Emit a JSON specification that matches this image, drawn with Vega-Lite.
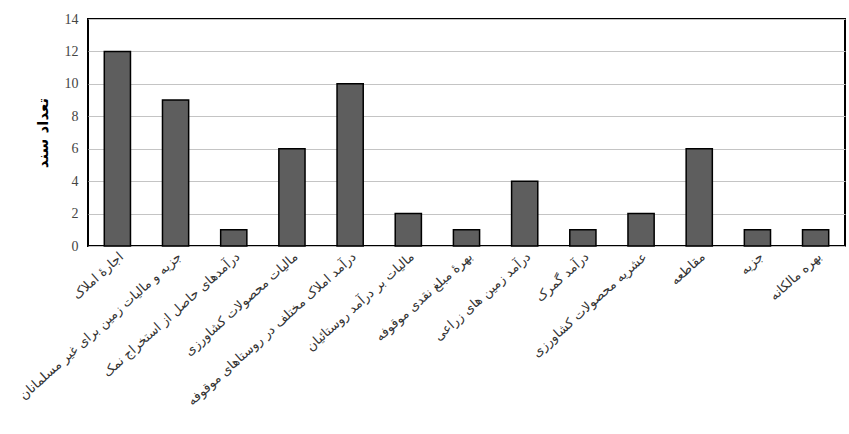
{
  "$schema": "https://vega.github.io/schema/vega-lite/v6.json",
  "autosize": "none",
  "width": 757,
  "height": 227,
  "padding": {"left": 88, "top": 19, "right": 4, "bottom": 188},
  "background": "white",
  "config": {
    "view": {"stroke": "black", "strokeWidth": 2},
    "axis": {"domain": false, "ticks": false}
  },
  "data": {
    "values": [
      {"item": "اجارهٔ املاک", "count": 12},
      {"item": "جزیه و مالیات زمین برای غیر مسلمانان", "count": 9},
      {"item": "درآمدهای حاصل از استخراج نمک", "count": 1},
      {"item": "مالیات محصولات کشاورزی", "count": 6},
      {"item": "درآمد املاک مختلف در روستاهای موقوفه", "count": 10},
      {"item": "مالیات بر درآمد روستائیان", "count": 2},
      {"item": "بهرهٔ مبلغ نقدی موقوفه", "count": 1},
      {"item": "درآمد زمین های زراعی", "count": 4},
      {"item": "درآمد گمرک", "count": 1},
      {"item": "عشریه محصولات کشاورزی", "count": 2},
      {"item": "مقاطعه", "count": 6},
      {"item": "جزیه", "count": 1},
      {"item": "بهره مالکانه", "count": 1}
    ]
  },
  "mark": {"type": "bar", "fill": "#5e5e5e", "stroke": "black", "strokeWidth": 1.5},
  "encoding": {
    "x": {
      "field": "item",
      "type": "nominal",
      "sort": null,
      "scale": {"paddingInner": 0.55, "paddingOuter": 0.28},
      "axis": {
        "title": null,
        "labelAngle": -42,
        "labelFont": "DejaVu Sans",
        "labelFontSize": 13,
        "labelColor": "#333333",
        "labelPadding": 4,
        "labelLimit": 300,
        "grid": false
      }
    },
    "y": {
      "field": "count",
      "type": "quantitative",
      "scale": {"domain": [0, 14], "nice": false},
      "axis": {
        "values": [0, 2, 4, 6, 8, 10, 12, 14],
        "title": "تعداد سند",
        "titleFont": "DejaVu Sans",
        "titleFontSize": 15,
        "titleFontWeight": "bold",
        "titleColor": "black",
        "titlePadding": 14,
        "labelFont": "Liberation Serif",
        "labelFontSize": 14,
        "labelColor": "#444444",
        "labelPadding": 10,
        "gridColor": "#c4c4c4",
        "gridWidth": 1.2
      }
    }
  }
}
